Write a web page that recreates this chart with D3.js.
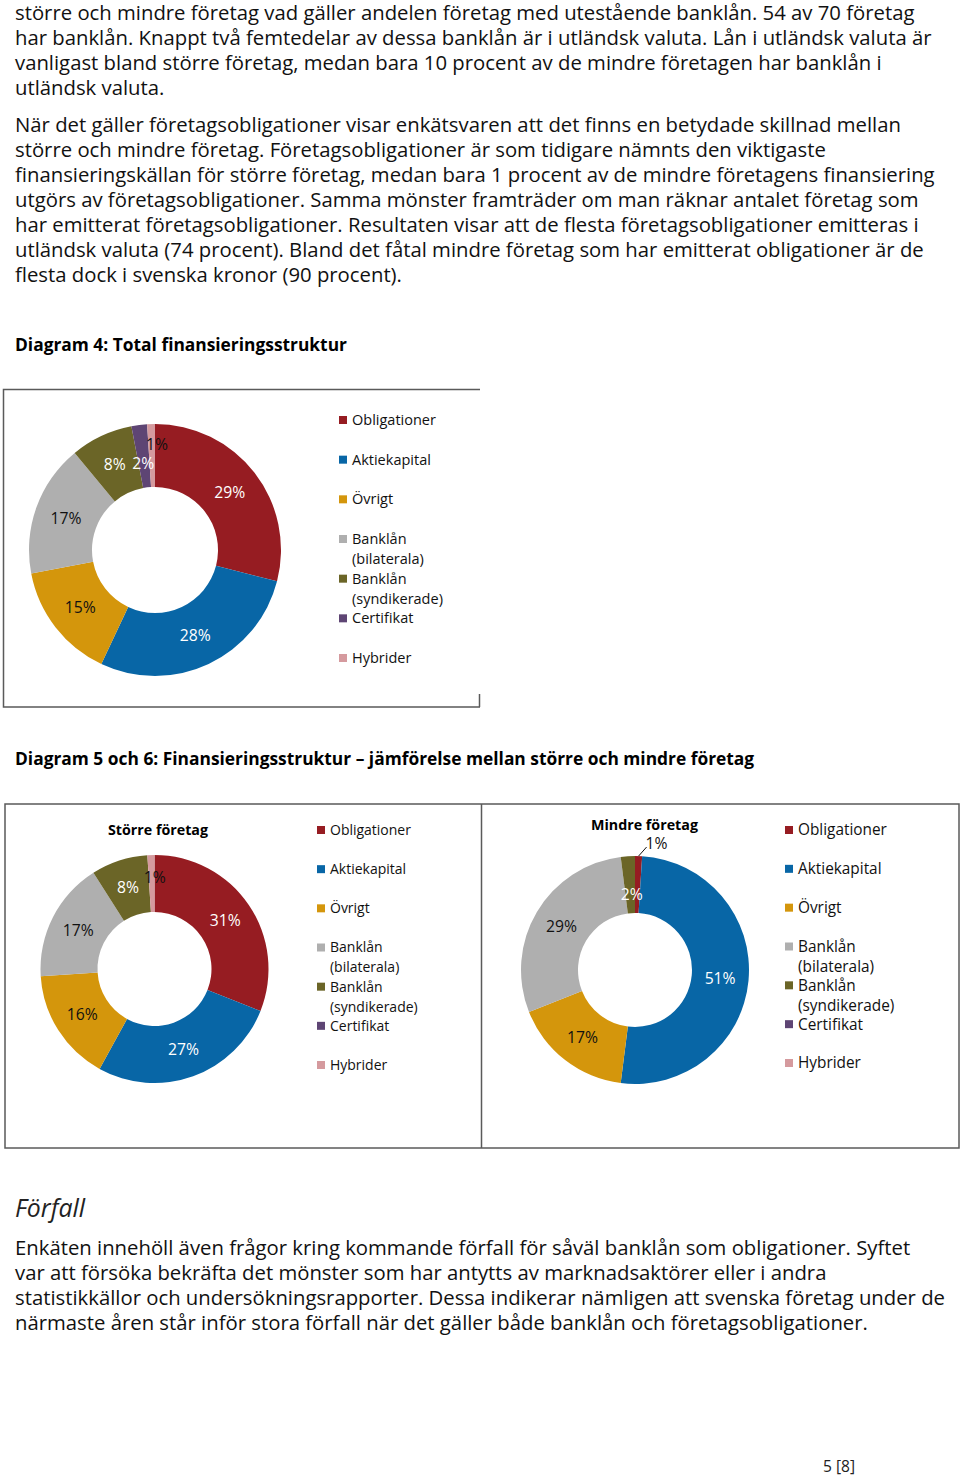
<!DOCTYPE html>
<html><head><meta charset="utf-8">
<script src="https://cdn.jsdelivr.net/npm/d3@7"></script>
<style>
body{margin:0;background:#fff}
svg{display:block}
text{font-family:"Open Sans","Noto Sans",sans-serif}
</style>
</head><body>
<svg id="c" width="960" height="1477"></svg>
<script>
// ---------- data ----------
const categories = ["Obligationer","Aktiekapital","Övrigt","Banklån (bilaterala)","Banklån (syndikerade)","Certifikat","Hybrider"];
const totalValues = [29,28,15,17,8,2,1];       // Diagram 4
const largeValues = [31,27,16,17,8,0,1];       // Större företag
const smallValues = [1,51,17,29,2,0,0];        // Mindre företag
const subTitles = ["Större företag","Mindre företag"];
const diagram4Title = "Diagram 4: Total finansieringsstruktur";
const diagram56Title = "Diagram 5 och 6: Finansieringsstruktur – jämförelse mellan större och mindre företag";
const topLines = [
 "större och mindre företag vad gäller andelen företag med utestående banklån. 54 av 70 företag",
 "har banklån. Knappt två femtedelar av dessa banklån är i utländsk valuta. Lån i utländsk valuta är",
 "vanligast bland större företag, medan bara 10 procent av de mindre företagen har banklån i",
 "utländsk valuta."
];
const secondLines = [
 "När det gäller företagsobligationer visar enkätsvaren att det finns en betydade skillnad mellan",
 "större och mindre företag. Företagsobligationer är som tidigare nämnts den viktigaste",
 "finansieringskällan för större företag, medan bara 1 procent av de mindre företagens finansiering",
 "utgörs av företagsobligationer. Samma mönster framträder om man räknar antalet företag som",
 "har emitterat företagsobligationer. Resultaten visar att de flesta företagsobligationer emitteras i",
 "utländsk valuta (74 procent). Bland det fåtal mindre företag som har emitterat obligationer är de",
 "flesta dock i svenska kronor (90 procent)."
];
const sectionHeading = "Förfall";
const bottomLines = [
 "Enkäten innehöll även frågor kring kommande förfall för såväl banklån som obligationer. Syftet",
 "var att försöka bekräfta det mönster som har antytts av marknadsaktörer eller i andra",
 "statistikkällor och undersökningsrapporter. Dessa indikerar nämligen att svenska företag under de",
 "närmaste åren står inför stora förfall när det gäller både banklån och företagsobligationer."
];
const pageLabel = "5 [8]";

// ---------- style ----------
const colors = ["#961c22","#0866a6","#d4960c","#afafaf","#6b6527","#5e4574","#d59a9e"];
const labelColors = ["#fff","#fff","#111","#111","#fff","#fff","#111"];
const frameColor = "#5a5a5a";

const svg = d3.select("#c");
svg.append("rect").attr("width",960).attr("height",1477).attr("fill","#fff");

function fit(str, target, weight, style){
  const t = svg.append("text").attr("font-size",100).attr("font-weight",weight||400)
    .attr("font-style",style||"normal").text(str);
  const w = t.node().getComputedTextLength(); t.remove();
  return 100*target/w;
}

// ---------- body text ----------
const bodySize = fit(topLines[0], 900);
function para(lines, y0, size){
  svg.append("g").selectAll("text").data(lines).join("text")
    .attr("x",15).attr("y",(d,i)=>y0+i*25).attr("font-size",size).attr("fill","#111").text(d=>d);
}
para(topLines, 19.5, bodySize);
para(secondLines, 132, bodySize);
para(bottomLines, 1255, fit(bottomLines[0], 895));

svg.append("text").attr("x",15).attr("y",1217).attr("font-style","italic")
  .attr("font-size",fit(sectionHeading,70,400,"italic")).attr("fill","#222").text(sectionHeading);
svg.append("text").attr("x",823).attr("y",1472).attr("font-size",fit(pageLabel,32)).attr("fill","#222").text(pageLabel);

// titles
svg.append("text").attr("x",15).attr("y",351).attr("font-weight",700)
  .attr("font-size",fit(diagram4Title,332,700)).attr("fill","#000").text(diagram4Title);
svg.append("text").attr("x",15).attr("y",765).attr("font-weight",700)
  .attr("font-size",fit(diagram56Title,740,700)).attr("fill","#000").text(diagram56Title);

// ---------- frames ----------
const fr = svg.append("g").attr("stroke",frameColor).attr("stroke-width",1.5).attr("fill","none");
fr.append("path").attr("d","M480,389.5 H3.5 V707 H480");
fr.append("path").attr("d","M479.5,694 V707");
fr.append("rect").attr("x",5).attr("y",804).attr("width",954).attr("height",344);
fr.append("path").attr("d","M481.5,804 V1148");

// ---------- donut ----------
const pie = d3.pie().sort(null).value(d=>d);
const labelSize = fit("29%",31);
function donut(values, cx, cy, R, nudges, outsideIdx){
  const g = svg.append("g").attr("transform",`translate(${cx},${cy})`);
  const arc = d3.arc().innerRadius(R*0.5).outerRadius(R);
  const mid = d3.arc().innerRadius(R*0.75).outerRadius(R*0.75);
  const arcs = pie(values);
  g.selectAll("path").data(arcs).join("path")
    .attr("d",arc).attr("fill",(d,i)=>colors[i]);
  arcs.forEach((a,i)=>{
    if(a.data<=0) return;
    const n = nudges[i]||[0,0];
    let [x,y] = mid.centroid(a);
    if(i===outsideIdx){
      const ang=(a.startAngle+a.endAngle)/2;
      const ox=R*Math.sin(ang), oy=-R*Math.cos(ang);
      g.append("line").attr("x1",ox).attr("y1",oy).attr("x2",ox+8).attr("y2",oy-9)
        .attr("stroke","#111").attr("stroke-width",1);
      x=ox+n[0]; y=oy+n[1];
      g.append("text").attr("x",x).attr("y",y).attr("dy","0.35em").attr("text-anchor","middle")
        .attr("font-size",labelSize).attr("fill","#111").text(a.data+"%");
      return;
    }
    g.append("text").attr("x",x+n[0]).attr("y",y+n[1]).attr("dy","0.35em").attr("text-anchor","middle")
      .attr("font-size",labelSize).attr("fill",labelColors[i]).text(a.data+"%");
  });
}
function legend(x, y0, y1, size){
  const ys = d3.scaleLinear().domain([0,categories.length-1]).range([y0,y1]);
  const g = svg.append("g");
  categories.forEach((c,i)=>{
    const y = ys(i);
    g.append("rect").attr("x",x).attr("y",y-4).attr("width",8).attr("height",8).attr("fill",colors[i]);
    const parts = c.indexOf(" (")>0 ? [c.slice(0,c.indexOf(" (")), c.slice(c.indexOf(" (")+1)] : [c];
    parts.forEach((p,j)=>{
      g.append("text").attr("x",x+13).attr("y",y+j*20).attr("dy","0.35em")
        .attr("font-size",size).attr("fill","#111").text(p);
    });
  });
}

donut(totalValues, 155, 550, 126, {5:[0,7],6:[5,-11]}, -1);
legend(339, 420, 658, fit("Obligationer",84));

donut(largeValues, 154.5, 969, 114, {6:[3,-6]}, -1);
legend(317, 830, 1065, fit("Obligationer",81));
svg.append("text").attr("x",158).attr("y",835).attr("text-anchor","middle").attr("font-weight",700)
  .attr("font-size",fit(subTitles[0],100,700)).attr("fill","#000").text(subTitles[0]);

donut(smallValues, 635, 970, 114, {0:[18,-13],4:[2,10]}, 0);
legend(785, 830, 1063, fit("Obligationer",89));
svg.append("text").attr("x",644.5).attr("y",830).attr("text-anchor","middle").attr("font-weight",700)
  .attr("font-size",fit(subTitles[1],107,700)).attr("fill","#000").text(subTitles[1]);
</script>
</body></html>
